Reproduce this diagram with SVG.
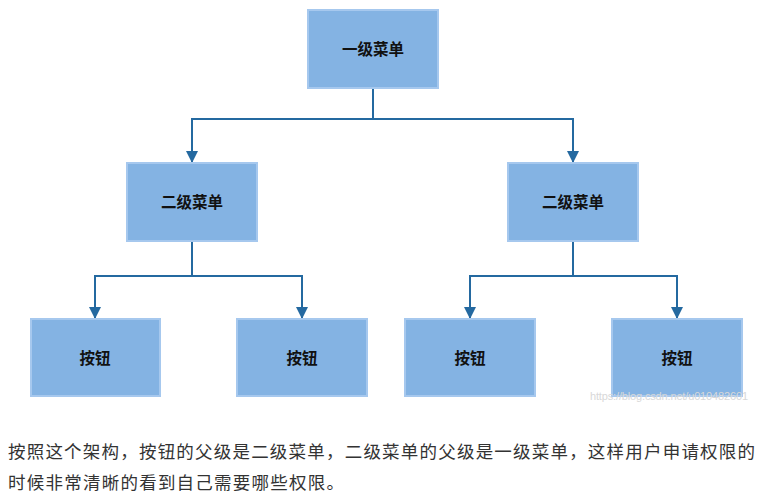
<svg xmlns="http://www.w3.org/2000/svg" width="774" height="500" viewBox="0 0 774 500">
<defs>
<marker id="arr" viewBox="0 0 12 12" refX="12" refY="6" markerWidth="12" markerHeight="12" markerUnits="userSpaceOnUse" orient="auto">
<path d="M0,0 L12,6 L0,12 Z" fill="#2469a0"/>
</marker>
</defs>
<style>
.box{fill:#84b3e3;stroke:#a6c8ee;stroke-width:2}
.lbl{font-family:"Noto Sans CJK SC",sans-serif;font-weight:bold;font-size:15.5px;fill:#111;text-anchor:middle;dominant-baseline:central}
.con{fill:none;stroke:#2469a0;stroke-width:2}
.cap{font-family:"Noto Sans CJK SC",sans-serif;font-size:17.5px;fill:#333}
</style>
<rect width="774" height="500" fill="#fff"/>
<g id="connectors">
<path class="con" d="M373,88 V119 H192 V163" marker-end="url(#arr)"/>
<path class="con" d="M373,119 H573 V163" marker-end="url(#arr)"/>
<path class="con" d="M192,241 V276 H95 V319" marker-end="url(#arr)"/>
<path class="con" d="M192,276 H302 V319" marker-end="url(#arr)"/>
<path class="con" d="M573,241 V276 H470 V319" marker-end="url(#arr)"/>
<path class="con" d="M573,276 H677 V319" marker-end="url(#arr)"/>
</g>
<g id="n-root"><rect class="box" x="308" y="10" width="130" height="78"/><text class="lbl" x="373" y="48">一级菜单</text></g>
<g id="n-l2a"><rect class="box" x="127" y="163" width="130" height="78"/><text class="lbl" x="192" y="201">二级菜单</text></g>
<g id="n-l2b"><rect class="box" x="508" y="163" width="130" height="78"/><text class="lbl" x="573" y="201">二级菜单</text></g>
<g id="n-b1"><rect class="box" x="31" y="319" width="129" height="77"/><text class="lbl" x="95" y="357">按钮</text></g>
<g id="n-b2"><rect class="box" x="237" y="319" width="130" height="77"/><text class="lbl" x="302" y="357">按钮</text></g>
<g id="n-b3"><rect class="box" x="405" y="319" width="130" height="77"/><text class="lbl" x="470" y="357">按钮</text></g>
<g id="n-b4"><rect class="box" x="612" y="319" width="130" height="77"/><text class="lbl" x="677" y="357">按钮</text></g>
<text x="590" y="400" font-family="Liberation Sans,Arial,sans-serif" font-size="11" fill="#d8d8d8" textLength="158">https://blog.csdn.net/u010482601</text>
<text class="cap" x="8" y="458" textLength="747" lengthAdjust="spacing">按照这个架构，按钮的父级是二级菜单，二级菜单的父级是一级菜单，这样用户申请权限的</text>
<text class="cap" x="8" y="489" textLength="336" lengthAdjust="spacing">时候非常清晰的看到自己需要哪些权限。</text>
</svg>
